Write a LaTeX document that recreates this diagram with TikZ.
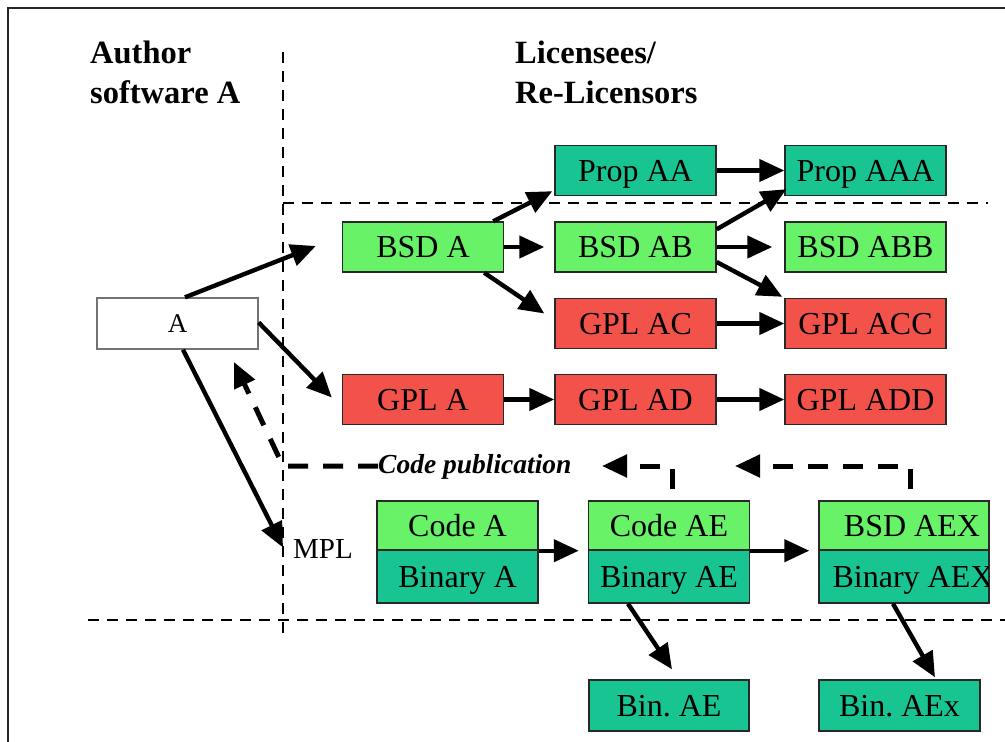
\documentclass[tikz,border=0pt]{standalone}
\usepackage{fontspec}
\setmainfont{Liberation Serif}
\usetikzlibrary{arrows.meta,calc}
\frenchspacing

\definecolor{lgreen}{RGB}{104,242,104}
\definecolor{lteal}{RGB}{24,196,146}
\definecolor{lred}{RGB}{242,82,74}
\definecolor{edge}{RGB}{40,40,40}

\tikzset{
  lic/.style={draw=edge, line width=1.4pt, minimum width=161pt, minimum height=50pt,
              inner sep=0pt, text height=21pt, text depth=0pt,
              font=\fontsize{32}{36}\selectfont},
  grn/.style={lic, fill=lgreen},
  tea/.style={lic, fill=lteal},
  rd/.style={lic, fill=lred},
  arr/.style={line width=4.4pt, -{Triangle[length=25pt,width=22pt]}},
  sep/.style={line width=2.2pt, dash pattern=on 11pt off 8pt},
  pub/.style={line width=5pt, dash pattern=on 20pt off 15pt,
              -{Triangle[length=25pt,width=22pt]}},
  ttl/.style={font=\bfseries\fontsize{32.5}{36}\selectfont, anchor=base west, inner sep=0pt},
}

\begin{document}
\begin{tikzpicture}[x=1pt,y=-1pt]
\useasboundingbox (0,0) rectangle (1005,742);
\clip (0,0) rectangle (1005,742);

% outer frame
\draw[line width=1.8pt, black!85] (8,760) -- (8,8) -- (1020,8);

% column titles
\node[ttl] (t1) at (90,63) {Author};
\node[ttl] (t2) at (90,103) {software A};
\node[ttl] (t3) at (515,63) {Licensees/};
\node[ttl] (t4) at (515,103) {Re-Licensors};

% separators
\coordinate (vtop) at (283,52);
\coordinate (vbot) at (283,637);
\coordinate (h1l) at (283,203);
\coordinate (h1r) at (988,203);
\coordinate (h2l) at (88,620);
\coordinate (h2r) at (1010,620);
\draw[sep] (vtop) -- (vbot);
\draw[sep] (h1l) -- (h1r);
\draw[sep] (h2l) -- (h2r);

% original software
\node[draw=black!55, line width=1.4pt, fill=white, minimum width=161pt, minimum height=51pt,
      inner sep=0pt, text height=18pt, text depth=0pt,
      font=\fontsize{27}{30}\selectfont] (A) at (177.5,323.5) {A};

% licence chains
\node[grn] (bsdA)   at (423,247)     {BSD A};
\node[tea] (propAA) at (635.5,170.5) {Prop AA};
\node[tea] (propAAA) at (865.5,170.5) {Prop AAA};
\node[grn] (bsdAB)  at (635.5,247)   {BSD AB};
\node[grn] (bsdABB) at (865.5,247)   {BSD ABB};
\node[rd]  (gplAC)  at (635.5,323.5) {GPL AC};
\node[rd]  (gplACC) at (865.5,323.5) {GPL ACC};
\node[rd]  (gplA)   at (423,399.5)   {GPL A};
\node[rd]  (gplAD)  at (635.5,399.5) {GPL AD};
\node[rd]  (gplADD) at (865.5,399.5) {GPL ADD};

% MPL code / binary pairs
\node[grn, minimum height=49pt] (codeA)  at (457.5,525.5) {Code A};
\node[tea, minimum height=53pt] (binA)   at (457.5,576.5) {Binary A};
\node[grn, minimum height=49pt] (codeAE) at (669,525.5)   {Code AE};
\node[tea, minimum height=53pt] (binAE)  at (669,576.5)   {Binary AE};
\node[grn, minimum height=49pt, minimum width=170pt] (bsdAEX) at (904,525.5) {};
\node[tea, minimum height=53pt, minimum width=170pt] (binAEX) at (904,576.5) {};
\begin{scope}
  \clip (819,495) rectangle (988,610);
  \node[inner sep=0pt, text height=21pt, text depth=0pt, font=\fontsize{32}{36}\selectfont]
    (bsdAEXt) at (912,525.5) {BSD AEX};
  \node[inner sep=0pt, text height=21pt, text depth=0pt, font=\fontsize{32}{36}\selectfont]
    (binAEXt) at (913,576.5) {Binary AEX};
\end{scope}
\node[tea, minimum height=51pt, minimum width=160pt] (binAEs)  at (669,705.5)   {Bin. AE};
\node[tea, minimum height=51pt] (binAExs) at (899.5,705.5) {Bin. AEx};

% labels
\node[anchor=base west, inner sep=0pt, font=\fontsize{29}{32}\selectfont] (mpl) at (293,558) {MPL};
\node[anchor=base west, inner sep=0pt, font=\bfseries\itshape\fontsize{27.5}{30}\selectfont]
  (pubtxt) at (378,473) {Code publication};

% licensing arrows
\draw[arr] ($(A.north)+(7.5,0)$) -- ($(bsdA.west)+(-26,-1)$);
\draw[arr] ($(A.east)+(0,-1)$) -- ($(gplA.west)+(-10,-2)$);
\draw[arr] ($(A.south)+(5.5,0)$) -- ($(mpl.west)+(-10,-1)$);

\draw[arr] ($(bsdA.north east)+(-11,0)$) -- ($(propAA.south west)+(-2,-5)$);
\draw[arr] (bsdA.east) -- ($(bsdAB.west)+(-10,0)$);
\draw[arr] ($(bsdA.south east)+(-20,0)$) -- ($(gplAC.west)+(-10,-10)$);

\draw[arr] (propAA.east) -- (propAAA.west);
\draw[arr] ($(bsdAB.north east)+(0,8)$) -- ($(propAAA.south west)+(2,-7)$);
\draw[arr] (bsdAB.east) -- ($(bsdABB.west)+(-12,0)$);
\draw[arr] ($(bsdAB.east)+(0,15)$) -- ($(gplACC.north west)+(-2,-1)$);
\draw[arr] (gplAC.east) -- (gplACC.west);
\draw[arr] (gplA.east) -- (gplAD.west);
\draw[arr] (gplAD.east) -- (gplADD.west);

\draw[arr] (codeA.south east) -- ($(codeAE.south west)+(-9,0)$);
\draw[arr] (codeAE.south east) -- ($(bsdAEX.south west)+(-9,0)$);
\draw[arr] ($(binAE.south)+(-41,0)$) -- ($(binAEs.north)+(3,-10)$);
\draw[arr] ($(binAEX.south)+(-11,0)$) -- ($(binAExs.north)+(35.5,-2)$);

% code publication flow
\coordinate (corner) at (283,466);
\coordinate (p1s) at (672,489);
\coordinate (p1e) at (602,466);
\coordinate (p2s) at (910,489);
\coordinate (p2e) at (735,466);
\coordinate (atip) at (234,362);
\draw[pub] (p1s) |- (p1e);
\draw[pub] (p2s) |- (p2e);
\draw[pub] (pubtxt.west |- corner) -- (corner) -- (atip);
\end{tikzpicture}
\end{document}
